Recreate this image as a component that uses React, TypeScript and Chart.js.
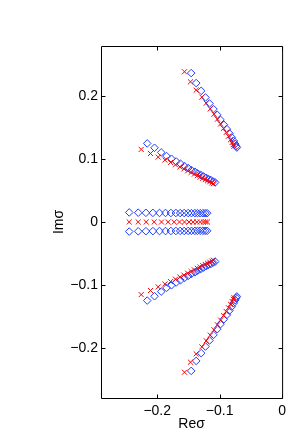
import React, { useEffect, useRef } from "react";
import { Chart, registerables } from "chart.js";

Chart.register(...registerables);

// ---- tick values / labels ----
const xTickValues = [-0.2, -0.1, 0];
const yTickValues = [-0.2, -0.1, 0, 0.1, 0.2];
const xLabel = "Reσ";
const yLabel = "Imσ";

// ---- diamonds (blue) ----
const upperSteepDiamondX = [-0.1456, -0.1376, -0.1296, -0.1227, -0.1163, -0.1099, -0.104, -0.0987, -0.0933, -0.0885, -0.0843, -0.0805, -0.0773, -0.075, -0.0735, -0.0725];
const upperSteepDiamondY = [0.2369, 0.221, 0.2087, 0.1981, 0.1886, 0.1796, 0.1706, 0.1626, 0.1547, 0.1478, 0.1409, 0.1345, 0.1288, 0.124, 0.1205, 0.1185];
const upperShallowDiamondX = [-0.216, -0.2043, -0.1936, -0.1851, -0.1771, -0.1696, -0.1627, -0.1563, -0.1504, -0.1451, -0.1397, -0.1349, -0.1301, -0.1259, -0.1216, -0.1179, -0.1141, -0.1104, -0.1072];
const upperShallowDiamondY = [0.125, 0.1181, 0.1107, 0.1049, 0.1006, 0.0963, 0.0927, 0.089, 0.0858, 0.0826, 0.08, 0.0773, 0.0747, 0.0725, 0.0704, 0.0683, 0.0668, 0.0645, 0.063];
const middleDiamondX = [-0.2448, -0.2304, -0.2181, -0.2069, -0.1963, -0.1867, -0.1781, -0.1701, -0.1632, -0.1568, -0.1504, -0.1451, -0.1397, -0.1355, -0.1312, -0.1269, -0.1232, -0.12];
const middleTopDiamondY = [0.0152, 0.0148, 0.0146, 0.0145, 0.0144, 0.0144, 0.0143, 0.0143, 0.0142, 0.0142, 0.0142, 0.0141, 0.0141, 0.0141, 0.014, 0.014, 0.014, 0.014];
const middleBottomDiamondY = [-0.0152, -0.0148, -0.0146, -0.0145, -0.0144, -0.0144, -0.0143, -0.0143, -0.0142, -0.0142, -0.0142, -0.0141, -0.0141, -0.0141, -0.014, -0.014, -0.014, -0.014];
const lowerShallowDiamondX = [-0.216, -0.2043, -0.1936, -0.1851, -0.1771, -0.1696, -0.1627, -0.1563, -0.1504, -0.1451, -0.1397, -0.1349, -0.1301, -0.1259, -0.1216, -0.1179, -0.1141, -0.1104, -0.1072];
const lowerShallowDiamondY = [-0.125, -0.1181, -0.1107, -0.1049, -0.1006, -0.0963, -0.0927, -0.089, -0.0858, -0.0826, -0.08, -0.0773, -0.0747, -0.0725, -0.0704, -0.0683, -0.0668, -0.0645, -0.063];
const lowerSteepDiamondX = [-0.1456, -0.1376, -0.1296, -0.1227, -0.1163, -0.1099, -0.104, -0.0987, -0.0933, -0.0885, -0.0843, -0.0805, -0.0773, -0.075, -0.0735, -0.0725];
const lowerSteepDiamondY = [-0.2369, -0.221, -0.2087, -0.1981, -0.1886, -0.1796, -0.1706, -0.1626, -0.1547, -0.1478, -0.1409, -0.1345, -0.1288, -0.124, -0.1205, -0.1185];

// ---- crosses (red) ----
const upperSteepCrossX = [-0.1563, -0.1467, -0.1376, -0.1285, -0.1215, -0.115, -0.109, -0.1035, -0.0985, -0.0938, -0.0895, -0.0858, -0.0825, -0.08, -0.0782, -0.077];
const upperSteepCrossY = [0.239, 0.223, 0.2098, 0.1987, 0.189, 0.18, 0.1715, 0.1636, 0.156, 0.149, 0.1425, 0.1365, 0.131, 0.1265, 0.123, 0.1205];
const upperShallowCrossX = [-0.2256, -0.2107, -0.1984, -0.1877, -0.1787, -0.1707, -0.1637, -0.1572, -0.1512, -0.1457, -0.1405, -0.1357, -0.1312, -0.127, -0.123, -0.1193, -0.1158, -0.1125, -0.11];
const upperShallowCrossY = [0.1155, 0.109, 0.1033, 0.0986, 0.0948, 0.091, 0.0875, 0.0845, 0.0815, 0.0788, 0.0762, 0.0738, 0.0715, 0.0694, 0.0675, 0.0657, 0.064, 0.0622, 0.061];
const middleCrossX = [-0.2448, -0.2304, -0.2176, -0.2048, -0.1931, -0.1824, -0.1728, -0.1643, -0.1563, -0.149, -0.1425, -0.1365, -0.131, -0.126, -0.1225, -0.1195];
const middleCrossY = [0, 0, 0, 0, 0, 0, 0, 0, 0, 0, 0, 0, 0, 0, 0, 0];
const lowerShallowCrossX = [-0.2256, -0.2107, -0.1984, -0.1877, -0.1787, -0.1707, -0.1637, -0.1572, -0.1512, -0.1457, -0.1405, -0.1357, -0.1312, -0.127, -0.123, -0.1193, -0.1158, -0.1125, -0.11];
const lowerShallowCrossY = [-0.1155, -0.109, -0.1033, -0.0986, -0.0948, -0.091, -0.0875, -0.0845, -0.0815, -0.0788, -0.0762, -0.0738, -0.0715, -0.0694, -0.0675, -0.0657, -0.064, -0.0622, -0.061];
const lowerSteepCrossX = [-0.1563, -0.1467, -0.1376, -0.1285, -0.1215, -0.115, -0.109, -0.1035, -0.0985, -0.0938, -0.0895, -0.0858, -0.0825, -0.08, -0.0782, -0.077];
const lowerSteepCrossY = [-0.239, -0.223, -0.2098, -0.1987, -0.189, -0.18, -0.1715, -0.1636, -0.156, -0.149, -0.1425, -0.1365, -0.131, -0.1265, -0.123, -0.1205];

const pts = (xs: number[], ys: number[]) => xs.map((x, i) => ({ x, y: ys[i] }));

const FONT = "'Liberation Sans', Arial, Helvetica, sans-serif";
const fmt = (v: number) => (v < 0 ? "\u2212" + String(Math.abs(v)) : String(v));

const framePlugin = {
  id: "frame",
  afterDraw(chart: any) {
    const { ctx, chartArea } = chart;
    const { left, right, top, bottom } = chartArea;
    const xs = chart.scales.x;
    const ys = chart.scales.y;
    const L = left + 0.5, R = right + 0.5, T = top + 0.5, B = bottom + 0.5;
    ctx.save();
    ctx.strokeStyle = "#000";
    ctx.lineWidth = 1;
    ctx.beginPath();
    ctx.rect(L, T, R - L, B - T);
    const tl = 4;
    xTickValues.forEach((v) => {
      const px = Math.round(xs.getPixelForValue(v)) + 0.5;
      ctx.moveTo(px, B);
      ctx.lineTo(px, B - tl);
      ctx.moveTo(px, T);
      ctx.lineTo(px, T + tl);
    });
    yTickValues.forEach((v) => {
      const py = Math.round(ys.getPixelForValue(v)) + 0.5;
      ctx.moveTo(L, py);
      ctx.lineTo(L + tl, py);
      ctx.moveTo(R, py);
      ctx.lineTo(R - tl, py);
    });
    ctx.stroke();
    ctx.restore();
  },
};

export default function App() {
  const ref = useRef<HTMLCanvasElement | null>(null);
  useEffect(() => {
    if (!ref.current) return;
    const crossStyle = {
      showLine: false,
      pointStyle: "crossRot",
      pointRadius: 3.6,
      pointBorderWidth: 1,
      borderColor: "#ff0000",
      backgroundColor: "#ff0000",
      pointBorderColor: "#ff0000",
    };
    const diamondStyle = {
      showLine: false,
      pointStyle: "rectRot",
      pointRadius: 3.8,
      pointBorderWidth: 1,
      borderColor: "rgb(30,60,255)",
      pointBorderColor: "rgb(30,60,255)",
      backgroundColor: "rgba(0,0,0,0)",
      pointBackgroundColor: "rgba(0,0,0,0)",
    };
    const chart = new Chart(ref.current, {
      type: "scatter",
      data: {
        datasets: [
          { ...crossStyle, data: pts(upperSteepCrossX, upperSteepCrossY) },
          { ...crossStyle, data: pts(upperShallowCrossX, upperShallowCrossY) },
          { ...crossStyle, data: pts(middleCrossX, middleCrossY) },
          { ...crossStyle, data: pts(lowerShallowCrossX, lowerShallowCrossY) },
          { ...crossStyle, data: pts(lowerSteepCrossX, lowerSteepCrossY) },
          { ...diamondStyle, data: pts(upperSteepDiamondX, upperSteepDiamondY) },
          { ...diamondStyle, data: pts(upperShallowDiamondX, upperShallowDiamondY) },
          { ...diamondStyle, data: pts(middleDiamondX, middleTopDiamondY) },
          { ...diamondStyle, data: pts(middleDiamondX, middleBottomDiamondY) },
          { ...diamondStyle, data: pts(lowerShallowDiamondX, lowerShallowDiamondY) },
          { ...diamondStyle, data: pts(lowerSteepDiamondX, lowerSteepDiamondY) },
        ] as any,
      },
      options: {
        animation: false,
        responsive: false,
        maintainAspectRatio: false,
        devicePixelRatio: 1,
        layout: { padding: { top: 46, right: 8, bottom: 0, left: 0 } },
        plugins: { legend: { display: false }, tooltip: { enabled: false } },
        scales: {
          x: {
            type: "linear",
            min: -0.29,
            max: 0,
            grid: { display: false, drawTicks: false },
            border: { display: false },
            afterBuildTicks: (s: any) => {
              s.ticks = xTickValues.map((v) => ({ value: v }));
            },
            afterFit: (s: any) => {
              s.height = 38;
            },
            ticks: {
              autoSkip: false,
              maxRotation: 0,
              padding: 5,
              color: "#000",
              font: { family: FONT, size: 14, lineHeight: 1.2 },
              callback: (v: any) => fmt(Number(v)),
            },
            title: {
              display: true,
              text: xLabel,
              color: "#000",
              font: { family: FONT, size: 14, lineHeight: 1.2 },
              padding: { top: 0, bottom: 3 },
            },
          },
          y: {
            type: "linear",
            min: -0.28,
            max: 0.28,
            grid: { display: false, drawTicks: false },
            border: { display: false },
            afterBuildTicks: (s: any) => {
              s.ticks = yTickValues.map((v) => ({ value: v }));
            },
            afterFit: (s: any) => {
              s.width = 101;
            },
            ticks: {
              autoSkip: false,
              padding: 3,
              color: "#000",
              font: { family: FONT, size: 14, lineHeight: 1.2 },
              callback: (v: any) => fmt(Number(v)),
            },
            title: {
              display: true,
              text: yLabel,
              color: "#000",
              font: { family: FONT, size: 14, lineHeight: 1.2 },
              padding: { top: 51, bottom: 0 },
            },
          },
        },
      },
      plugins: [framePlugin],
    });
    return () => chart.destroy();
  }, []);
  return (
    <div style={{ position: "fixed", left: 0, top: 0, width: 291, height: 436, background: "#fff" }}>
      <canvas ref={ref} width={291} height={436} style={{ display: "block", width: 291, height: 436 }} />
    </div>
  );
}
